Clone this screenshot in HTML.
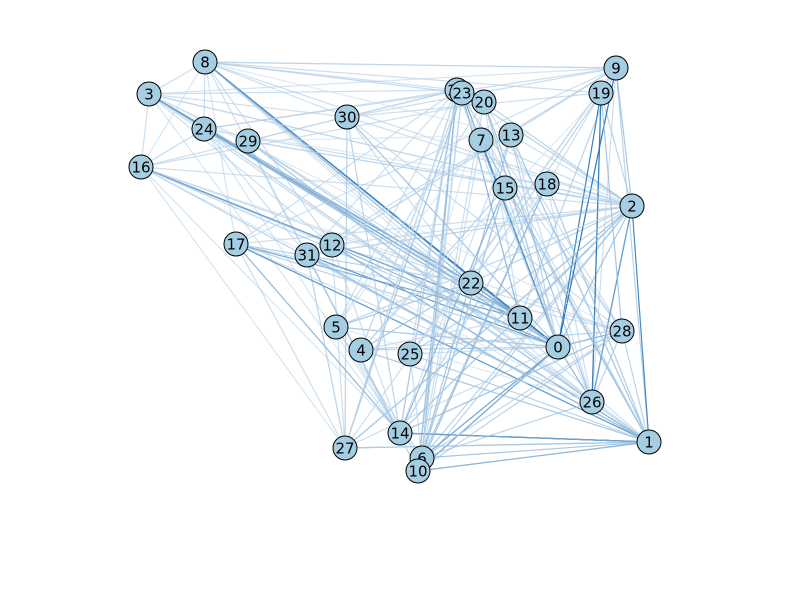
<!DOCTYPE html>
<html><head><meta charset="utf-8"><style>
body{margin:0;background:#fff}
svg{display:block}
text{font-family:"DejaVu Sans","Liberation Sans",sans-serif;font-size:15px}
</style></head><body>
<svg id="chart" width="800" height="600" viewBox="0 0 800 600">
<rect width="800" height="600" fill="#fff"/>
<g id="edges"></g>
<g id="nodes"></g>
</svg>
<script>
const nodeIds=[0,1,2,3,4,5,6,7,8,9,10,11,12,13,14,15,16,17,18,19,20,21,22,23,24,25,26,27,28,29,30,31];
const nodeX=[558,649,632,149,361,336,422,481,205,616,418,520,332,511,400,505,141,236,547,601,484,457,471,462,204,410,592,345,622,248,347,307];
const nodeY=[347,442,206,94,350,327,458,140,62,68,471,318,245,135,433,188,167,244,184,93,102,90,283,93,129,354,402,448,331,141,117,255];
const edgeSrc=[8,19,9,14,2,2,17,16,31,22,19,26,0,0,0,0,11,11,11,1,1,1,1,1,1,1,8,8,8,3,3,3,16,16,24,24,29,29,30,30,12,12,17,17,5,5,4,4,25,25,27,27,14,14,6,6,10,10,21,21,21,23,23,20,20,7,7,13,13,15,15,18,18,9,9,19,2,2,28,28,26,22,22,31,31,12,8,3,16,24,29,30,21,23,20,7,13,15,18,2,0,1,11,22,14,6,10,27,4,5,25,17,31,12,9,19,28,26,16,3,8,24,29,30,21,20,23,7,13,15,18,2,0,11];
const edgeDst=[0,0,1,1,26,1,1,11,0,0,26,2,28,26,6,10,22,17,16,17,31,12,27,14,10,6,11,22,19,22,0,11,0,1,22,11,0,26,0,14,1,0,0,14,0,2,1,15,6,2,2,23,28,1,0,21,0,1,14,6,10,0,11,0,26,0,1,1,10,14,6,10,6,2,0,28,14,27,14,4,6,4,5,1,10,14,9,2,20,9,2,19,0,1,11,2,26,0,1,31,5,27,4,17,21,23,20,21,23,20,9,9,9,9,27,4,6,5,26,28,13,18,13,9,27,25,4,5,12,6,25,5,17,4];
const edgeW=[1.0,0.85,0.3,1.0,0.8,0.8,0.6,0.8,0.7,0.6,0.85,0.5,0.5,0.5,0.5,0.7,0.5,0.6,0.5,0.6,0.5,0.5,0.4,1.0,0.5,0.4,0.6,0.5,0.2,0.5,0.4,0.6,0.3,0.3,0.5,0.4,0.3,0.3,0.4,0.3,0.4,0.5,0.4,0.4,0.3,0.3,0.3,0.3,0.2,0.3,0.3,0.4,0.3,0.4,0.5,0.4,0.4,0.4,0.4,0.3,0.4,0.6,0.5,0.4,0.4,0.7,0.4,0.4,0.4,0.5,0.5,0.4,0.4,0.4,0.9,0.4,0.3,0.3,0.3,0.3,0.3,0.3,0.3,0.3,0.3,0.2,0.2,0.2,0.2,0.2,0.2,0.2,0.2,0.2,0.2,0.2,0.2,0.2,0.2,0.2,0.2,0.2,0.2,0.2,0.2,0.2,0.2,0.2,0.2,0.2,0.2,0.2,0.2,0.2,0.1,0.1,0.1,0.1,0.1,0.1,0.1,0.1,0.1,0.1,0.1,0.1,0.1,0.1,0.1,0.1,0.1,0.1,0.1,0.1,0.1,0.1,0.1,0.1];
const extraSrc=[3,3,3,3,3,3,3,3,3,3,3,3,8,8,8,8,8,8,8,8,8,8,8,8,8,16,16,16,16,16,16,16,16,24,24,24,24,24,24,17,17,17,17,17,17,17,27,27,27,27,27,27,27,5,5,5,5,5,4,4,4,4,25,25,25,29,29,29,29,29,30,30,30,30,12,12,12,31,31,31,6,6,6,6,10,10,10,10,14,14,14,14,21,21,21,23,20,20,7,13,13,15,18,18,19,19,19,9,9,2,2,28,0,26];
const extraDst=[0,1,2,9,21,30,24,16,29,14,26,12,1,2,9,21,23,24,17,14,3,30,16,26,12,2,22,27,14,24,21,28,12,1,2,21,31,14,26,22,28,27,6,2,21,26,0,1,12,31,21,30,9,21,22,0,14,6,22,0,23,1,1,21,0,22,1,14,21,2,9,28,22,2,28,9,2,27,21,2,15,2,28,7,2,23,15,28,2,13,9,18,28,2,26,2,2,28,28,2,0,1,1,26,2,26,22,26,11,11,22,1,2,28];
const extraW=[0.2,0.15,0.15,0.15,0.2,0.2,0.3,0.2,0.2,0.15,0.15,0.2,0.2,0.2,0.2,0.2,0.25,0.2,0.15,0.2,0.2,0.2,0.15,0.15,0.2,0.2,0.2,0.15,0.15,0.25,0.2,0.15,0.2,0.2,0.2,0.2,0.2,0.15,0.2,0.2,0.2,0.2,0.3,0.2,0.2,0.2,0.2,0.15,0.2,0.2,0.2,0.3,0.15,0.2,0.2,0.2,0.2,0.2,0.2,0.3,0.2,0.2,0.3,0.2,0.2,0.2,0.2,0.2,0.2,0.2,0.2,0.2,0.2,0.2,0.2,0.15,0.2,0.2,0.2,0.2,0.3,0.3,0.3,0.2,0.3,0.2,0.3,0.3,0.2,0.2,0.2,0.2,0.2,0.2,0.2,0.2,0.3,0.2,0.2,0.2,0.3,0.3,0.3,0.2,0.3,0.4,0.3,0.2,0.3,0.3,0.3,0.3,0.4,0.3];
const NS="http://www.w3.org/2000/svg";
function xPos(i){return nodeX[i];}
function yPos(i){return nodeY[i];}
function blues(w){
  const a=[222,235,247],b=[33,113,181];
  return "rgb("+a.map((v,k)=>Math.round(v+(b[k]-v)*w)).join(",")+")";
}
const eg=document.getElementById("edges");
function drawEdges(S,D,W){
  for(let k=0;k<S.length;k++){
    const l=document.createElementNS(NS,"line");
    l.setAttribute("x1",xPos(S[k]));l.setAttribute("y1",yPos(S[k]));
    l.setAttribute("x2",xPos(D[k]));l.setAttribute("y2",yPos(D[k]));
    l.setAttribute("stroke",blues(Math.min(1,W[k]*1.1)));
    l.setAttribute("stroke-width","1.2");
    l.setAttribute("stroke-opacity",(0.6+0.4*W[k]).toFixed(2));
    
    
    eg.appendChild(l);
  }
}
drawEdges(extraSrc,extraDst,extraW);
drawEdges(edgeSrc,edgeDst,edgeW);
const ng=document.getElementById("nodes");
for(let i=0;i<nodeIds.length;i++){
  const g=document.createElementNS(NS,"g");
  
  
  const c=document.createElementNS(NS,"circle");
  c.setAttribute("cx",xPos(i));c.setAttribute("cy",yPos(i));c.setAttribute("r","12");
  c.setAttribute("fill","#a6cee3");c.setAttribute("stroke","#000");c.setAttribute("stroke-width","1");
  
  
  const t=document.createElementNS(NS,"text");
  t.setAttribute("x",xPos(i));t.setAttribute("y",yPos(i)+5.5);t.setAttribute("text-anchor","middle");
  t.textContent=nodeIds[i];
  
  
  g.appendChild(c);g.appendChild(t);ng.appendChild(g);
}
</script>
</body></html>
